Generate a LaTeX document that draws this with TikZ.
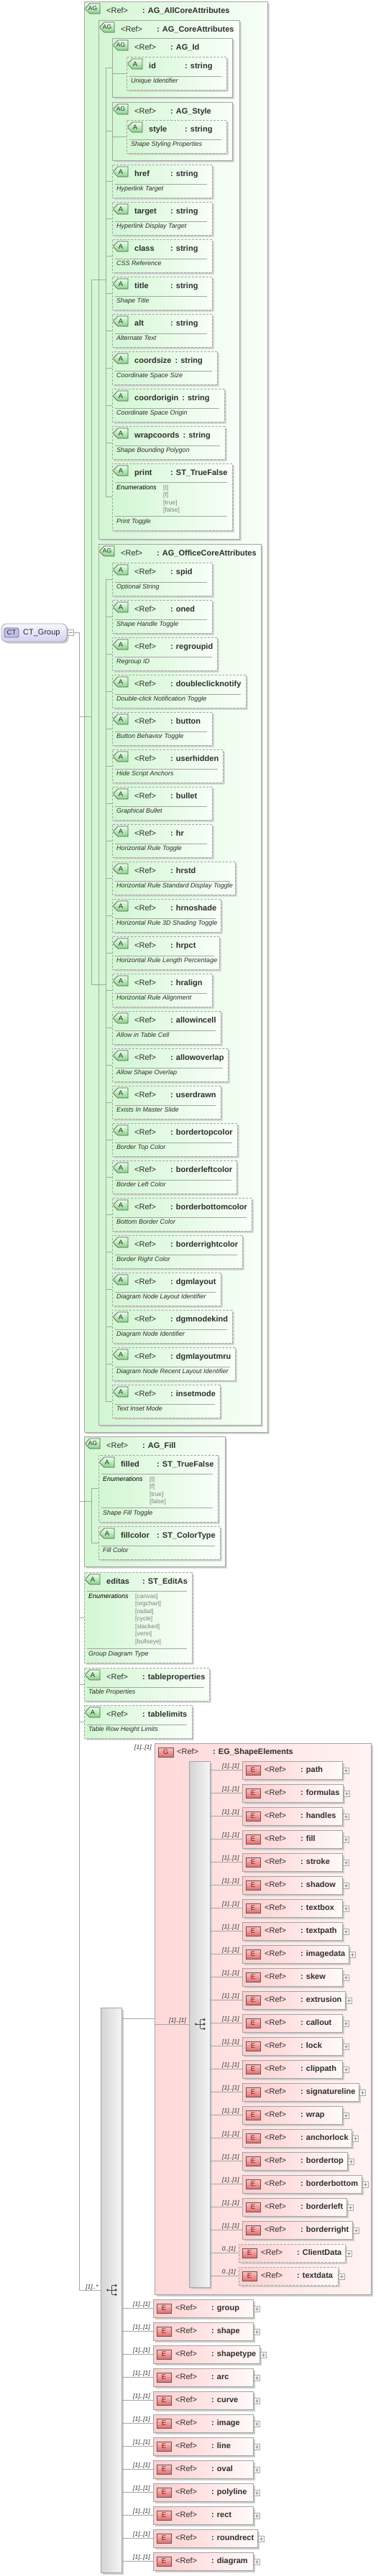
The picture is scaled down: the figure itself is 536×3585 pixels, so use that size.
\documentclass[tikz,border=0pt]{standalone}
\usepackage{fontspec}
\setmainfont{Liberation Sans}
\usepackage{tikz}
\usetikzlibrary{calc,shapes.misc,shadows}

\definecolor{boxgray}{RGB}{165,165,165}
\definecolor{txt}{RGB}{45,45,45}
\definecolor{agleft}{RGB}{210,246,210}
\definecolor{agright}{RGB}{248,255,248}
\definecolor{atop}{RGB}{236,255,236}
\definecolor{abot}{RGB}{135,210,135}
\definecolor{egleft}{RGB}{255,216,216}
\definecolor{egright}{RGB}{255,243,243}
\definecolor{elleft}{RGB}{255,205,205}
\definecolor{elright}{RGB}{255,250,250}
\definecolor{etop}{RGB}{255,196,196}
\definecolor{ebot}{RGB}{228,108,108}
\definecolor{etext}{RGB}{110,30,30}
\definecolor{barleft}{RGB}{212,212,212}
\definecolor{barright}{RGB}{245,245,245}
\definecolor{cttop}{RGB}{246,246,255}
\definecolor{ctbot}{RGB}{210,210,244}
\definecolor{ctfill}{RGB}{190,190,235}

% name column of a header: short names get a fixed 50pt column
\newcommand{\namecol}[1]{\sbox0{#1}\ifdim\wd0<45pt\makebox[50pt][l]{#1}\else#1\hspace{5pt}\fi}

\tikzset{
  boxbase/.style={anchor=north west,inner sep=0pt,outer sep=0pt},
  boxshadow/.style={drop shadow={shadow xshift=2.5pt,shadow yshift=-2.5pt,fill=black!20,opacity=1}},
  agframe/.style={boxbase,chamfered rectangle,chamfered rectangle corners={north west,south west},
    chamfered rectangle xsep=9pt,chamfered rectangle ysep=9pt,
    draw=boxgray,line width=0.9pt,left color=agleft,right color=agright,boxshadow},
  attrframe/.style={agframe,dash pattern=on 3pt off 2pt,
    chamfered rectangle xsep=8pt,chamfered rectangle ysep=8pt},
  abadge/.style={boxbase,chamfered rectangle,chamfered rectangle corners={north west,south west},
    chamfered rectangle xsep=3pt,chamfered rectangle ysep=3pt,minimum width=20pt,minimum height=14pt,
    draw=black!65,line width=0.7pt,top color=atop,bottom color=abot,text=txt,font=\fontsize{9.5}{9.5}\selectfont},
  ebadge/.style={boxbase,rectangle,minimum width=20pt,minimum height=13pt,draw=black!65,line width=0.7pt,
    top color=etop,bottom color=ebot,text=etext,font=\fontsize{9.5}{9.5}\selectfont},
  egframe/.style={boxbase,rectangle,draw=boxgray,line width=0.9pt,left color=egleft,right color=egright,boxshadow},
  elbox/.style={boxbase,rectangle,minimum height=25pt,draw=boxgray,line width=0.9pt,
    left color=elleft,right color=elright,boxshadow},
  eldash/.style={elbox,dash pattern=on 3pt off 2pt},
  seqbar/.style={boxbase,rectangle,draw=boxgray,line width=0.9pt,left color=barleft,right color=barright,boxshadow},
  ctframe/.style={boxbase,rectangle,rounded corners=7pt,draw=black!35,line width=0.8pt,
    top color=cttop,bottom color=ctbot,boxshadow},
  ctbadge/.style={boxbase,rectangle,rounded corners=2.5pt,minimum width=20pt,minimum height=13pt,
    draw=black!60,line width=0.7pt,fill=ctfill,text=txt,font=\fontsize{9.5}{9.5}\selectfont},
  smallbox/.style={anchor=west,rectangle,minimum size=8pt,inner sep=0pt,outer sep=0pt,draw=boxgray,fill=white},
  plusbox/.style={smallbox,path picture={\draw[black!45,line width=0.6pt]
      ([xshift=-2.5pt]path picture bounding box.center) -- ([xshift=2.5pt]path picture bounding box.center)
      ([yshift=-2.5pt]path picture bounding box.center) -- ([yshift=2.5pt]path picture bounding box.center);}},
  minusbox/.style={smallbox,path picture={\draw[black!45,line width=0.6pt]
      ([xshift=-2.5pt]path picture bounding box.center) -- ([xshift=2.5pt]path picture bounding box.center);}},
  hdr/.style={anchor=base west,inner sep=0pt,text=txt,font=\fontsize{11}{13}\selectfont},
  desc/.style={anchor=base west,inner sep=0pt,text=txt,font=\fontsize{9}{11}\selectfont\itshape},
  enumval/.style={anchor=base west,inner sep=0pt,text=black!50,font=\fontsize{8.5}{10}\selectfont},
  mult/.style={anchor=base east,inner sep=0pt,text=txt,font=\fontsize{8.5}{10}\selectfont\itshape},
  conn/.style={draw=boxgray,line width=0.8pt},
  sepline/.style={draw=boxgray,line width=0.8pt},
  choiceicon/.pic={
    \draw[black!70,line width=0.8pt] (-5,0) -- (1,0) (1,-6.3) -- (1,6.3)
      (1,-6.3) -- (6.5,-6.3) (1,0) -- (6.5,0) (1,6.3) -- (6.5,6.3);
    \fill[black!70] (-5,0) circle (1.6pt) (6.5,-6.3) circle (1.8pt) (6.5,0) circle (1.8pt) (6.5,6.3) circle (1.8pt);
  }
}

% attribute: node, left, top, right, first column, type, description
\newcommand{\xattr}[7]{%
  \node[attrframe,minimum width=#4-#2,minimum height=46] (#1) at (#2,#3) {};
  \node[abadge] (#1 b) at ($(#1.north west)+(5,6)$) {A};
  \node[hdr] (#1 t) at ($(#1.north west)+(31,16)$) {\namecol{#5}\textbf{: #6}};
  \draw[sepline] ($(#1.north west)+(4,27)$) -- ($(#1.north east)+(-7,27)$);
  \node[desc] (#1 d) at ($(#1.north west)+(6,36.5)$) {#7};
}
% attribute with enumerations: node, left, top, right, height, name, type, values, description
\newcommand{\xenum}[9]{%
  \node[attrframe,minimum width=#4-#2,minimum height=#5] (#1) at (#2,#3) {};
  \node[abadge] (#1 b) at ($(#1.north west)+(5,6)$) {A};
  \node[hdr] (#1 t) at ($(#1.north west)+(31,16)$) {\namecol{\bfseries #6}\textbf{: #7}};
  \draw[sepline] ($(#1.north west)+(4,26)$) -- ($(#1.north east)+(-7,26)$);
  \node[desc,text=black] (#1 e) at ($(#1.north west)+(6,36)$) {Enumerations};
  \foreach \ev [count=\ek from 0] in {#8}
    \node[enumval] (#1 v\ek) at ($(#1.north west)+(71,36+10.5*\ek)$) {[\ev]};
  \draw[sepline] ($(#1.north west)+(4,#5-20)$) -- ($(#1.north east)+(-7,#5-20)$);
  \node[desc] (#1 d) at ($(#1.north west)+(6,#5-10)$) {#9};
}
% attribute group: node, left, top, right, bottom, group name
\newcommand{\xgroup}[6]{%
  \node[agframe,minimum width=#4-#2,minimum height=#5-#3] (#1) at (#2,#3) {};
  \node[abadge,font=\fontsize{8.5}{8.5}\selectfont] (#1 b) at ($(#1.north west)+(5,6)$) {AG};
  \node[hdr] (#1 t) at ($(#1.north west)+(31,16)$) {\namecol{<Ref>}\textbf{: #6}};
}
% element: node, left, top, right, frame style, name, bar, multiplicity
\newcommand{\xelem}[8]{%
  \node[#5,minimum width=#4-#2] (#1) at (#2,#3) {};
  \node[ebadge] (#1 b) at ($(#1.north west)+(5,6)$) {E};
  \node[hdr] (#1 t) at ($(#1.north west)+(31,15)$) {\namecol{<Ref>}\textbf{: #6}};
  \node[plusbox] (#1 p) at ($(#1.east)+(1,0.5)$) {};
  \draw[conn] (#7.east |- #1.west) -- (#1.west);
  \node[mult] (#1 m) at ($(#1.west)+(-4,-3)$) {#8};
}

\def\corelist{href/295/Hyperlink Target, target/295/Hyperlink Display Target,
  class/295/CSS Reference, title/295/Shape Title, alt/295/Alternate Text,
  coordsize/302/Coordinate Space Size, coordorigin/312/Coordinate Space Origin,
  wrapcoords/313/Shape Bounding Polygon}
\def\officelist{spid/295/Optional String, oned/295/Shape Handle Toggle,
  regroupid/302/Regroup ID, doubleclicknotify/342/Double-click Notification Toggle,
  button/295/Button Behavior Toggle, userhidden/310/Hide Script Anchors,
  bullet/295/Graphical Bullet, hr/295/Horizontal Rule Toggle,
  hrstd/327/Horizontal Rule Standard Display Toggle, hrnoshade/307/Horizontal Rule 3D Shading Toggle,
  hrpct/305/Horizontal Rule Length Percentage, hralign/295/Horizontal Rule Alignment,
  allowincell/307/Allow in Table Cell, allowoverlap/317/Allow Shape Overlap,
  userdrawn/307/Exists In Master Slide, bordertopcolor/330/Border Top Color,
  borderleftcolor/329/Border Left Color, borderbottomcolor/350/Bottom Border Color,
  borderrightcolor/337/Border Right Color, dgmlayout/307/Diagram Node Layout Identifier,
  dgmnodekind/323/Diagram Node Identifier, dgmlayoutmru/327/Diagram Node Recent Layout Identifier,
  insetmode/306/Text Inset Mode}

\begin{document}
\begin{tikzpicture}[x=1pt,y=-1pt]
  \useasboundingbox (0,0) rectangle (536,3585);

  % Complex type
  \node[ctframe,minimum width=91,minimum height=25] (ct) at (2,868) {};
  \node[ctbadge] (ct b) at ($(ct.north west)+(4,6)$) {CT};
  \node[hdr] (ct t) at ($(ct.north west)+(30,15.5)$) {CT\_Group};
  \node[minusbox] (ct m) at ($(ct.east)+(1,0)$) {};
  \coordinate (ctTrunk) at ($(ct m.east)+(8,0)$);

  % AG_AllCoreAttributes and its children
  \xgroup{allcore}{117}{2}{372}{1993}{AG\_AllCoreAttributes}
  \xgroup{core}{137}{28}{333}{750}{AG\_CoreAttributes}
  \xgroup{agid}{156}{53}{323}{135}{AG\_Id}
  \xattr{id}{176}{79}{315}{\bfseries id}{string}{Unique Identifier}
  \xgroup{agstyle}{156}{142}{323}{223}{AG\_Style}
  \xattr{style}{176}{167}{315}{\bfseries style}{string}{Shape Styling Properties}
  \foreach \nm/\rx/\ds [count=\i from 0] in \corelist
    {\xattr{\nm}{156}{229+52*\i}{\rx}{\bfseries\nm}{string}{\ds}}
  \xenum{print}{156}{645}{323}{93}{print}{ST\_TrueFalse}{t,f,true,false}{Print Toggle}
  \xgroup{office}{137}{757}{363}{1983}{AG\_OfficeCoreAttributes}
  \foreach \nm/\rx/\ds [count=\i from 0] in \officelist
    {\xattr{\nm}{156}{783+52*\i}{\rx}{<Ref>}{\nm}{\ds}}

  % AG_Fill and the single attributes
  \xgroup{agfill}{117}{1999}{313}{2180}{AG\_Fill}
  \xenum{filled}{137}{2025}{303}{93}{filled}{ST\_TrueFalse}{t,f,true,false}{Shape Fill Toggle}
  \xattr{fillcolor}{137}{2124}{306}{\bfseries fillcolor}{ST\_ColorType}{Fill Color}
  \xenum{editas}{117}{2188}{267}{126}{editas}{ST\_EditAs}{canvas,orgchart,radial,cycle,stacked,venn,bullseye}{Group Diagram Type}
  \xattr{tableproperties}{117}{2321}{291}{<Ref>}{tableproperties}{Table Properties}
  \xattr{tablelimits}{117}{2373}{267}{<Ref>}{tablelimits}{Table Row Height Limits}

  % Choice with EG_ShapeElements
  \node[seqbar,minimum width=29,minimum height=786] (outbar) at (140,2794) {};
  \node[egframe,minimum width=301,minimum height=767] (eg) at (215,2426) {};
  \node[ebadge,minimum width=21] (eg b) at ($(eg.north west)+(5,6)$) {G};
  \node[hdr] (eg t) at ($(eg.north west)+(31,15)$) {\namecol{<Ref>}\textbf{: EG\_ShapeElements}};
  \node[mult] (eg m) at ($(eg.north west)+(-4,8)$) {[1]..[1]};
  \node[seqbar,minimum width=29,minimum height=732] (inbar) at (263,2451) {};
  \foreach \nm/\rx [count=\i from 0] in {path/476, formulas/477, handles/476, fill/476,
      stroke/476, shadow/476, textbox/476, textpath/476, imagedata/485, skew/476,
      extrusion/480, callout/476, lock/476, clippath/476, signatureline/499, wrap/476,
      anchorlock/489, bordertop/483, borderbottom/503, borderleft/482, borderright/490}
    {\xelem{in-\nm}{337}{2451+32*\i}{\rx}{elbox}{\nm}{inbar}{[1]..[1]}}
  \xelem{in-ClientData}{332}{3123}{480}{eldash}{ClientData}{inbar}{0..[1]}
  \xelem{in-textdata}{332}{3155}{470}{eldash}{textdata}{inbar}{0..[1]}
  \foreach \nm/\rx [count=\i from 0] in {group/352, shape/352, shapetype/361, arc/352,
      curve/352, image/352, line/352, oval/352, polyline/352, rect/352, roundrect/358, diagram/352}
    {\xelem{out-\nm}{213}{3200+32*\i}{\rx}{elbox}{\nm}{outbar}{[1]..[1]}}

  % Connectors
  \draw[conn] (ct m.east) -- (ctTrunk) -- (ctTrunk |- outbar.west) -- (outbar.west);
  \node[mult] (outbar m) at ($(outbar.west)+(-3,-2)$) {[1]..*};
  \coordinate (allTrunk) at ($(allcore.north west)+(10,0)$);
  \coordinate (coreTrunk) at ($(core.north west)+(10,0)$);
  \draw[conn] (ctTrunk |- allcore.west) -- (allTrunk |- allcore.west);
  \draw[conn] (allTrunk |- core.west) -- (allTrunk |- office.west);
  \foreach \cn in {core,office}
    \draw[conn] (allTrunk |- \cn.west) -- (coreTrunk |- \cn.west);
  \draw[conn] (coreTrunk |- agid.west) -- (coreTrunk |- print.west);
  \foreach \cn in {agid,agstyle,print}
    \draw[conn] (coreTrunk |- \cn.west) -- (\cn.west);
  \foreach \nm/\rx/\ds in \corelist
    \draw[conn] (coreTrunk |- \nm.west) -- (\nm.west);
  \draw[conn] (agid.west |- id.west) -- (id.west);
  \draw[conn] (agstyle.west |- style.west) -- (style.west);
  \draw[conn] (coreTrunk |- spid.west) -- (coreTrunk |- insetmode.west);
  \foreach \nm/\rx/\ds in \officelist
    \draw[conn] (coreTrunk |- \nm.west) -- (\nm.west);
  \coordinate (fillTrunk) at ($(agfill.north west)+(10,0)$);
  \draw[conn] (ctTrunk |- agfill.west) -- (fillTrunk |- agfill.west);
  \draw[conn] (fillTrunk |- filled.west) -- (fillTrunk |- fillcolor.west);
  \foreach \cn in {filled,fillcolor}
    \draw[conn] (fillTrunk |- \cn.west) -- (\cn.west);
  \foreach \cn in {editas,tableproperties,tablelimits}
    \draw[conn] (ctTrunk |- \cn.west) -- (\cn.west);
  \draw[conn] (outbar.east |- eg.west) -- (eg.west);
  \draw[conn] (eg.west |- inbar.west) -- (inbar.west);
  \node[mult] (inbar m) at ($(inbar.west)+(-4,-3)$) {[1]..[1]};

  % Choice icons
  \pic (outbar c) at (outbar.center) {choiceicon};
  \pic (inbar c) at (inbar.center) {choiceicon};
\end{tikzpicture}
\end{document}
